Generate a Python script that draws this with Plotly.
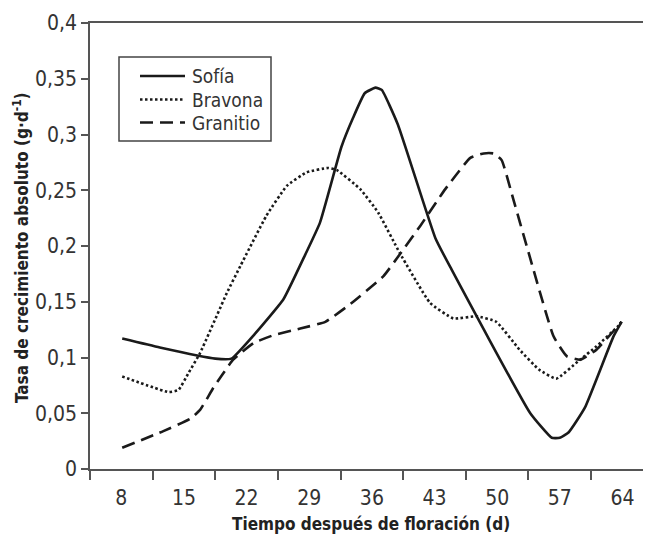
import plotly.graph_objects as go

# Days after flowering (x) and absolute growth rate (y)
sofia_x = [8.1, 12.3, 18.5, 20.3, 22.9, 26.1, 28.3, 30.2, 32.6, 33.9, 35.2, 36.4, 37.1,
           38.9, 43.1, 44.9, 53.7, 56.1, 57.0, 58.0, 59.8, 63.0, 63.9]
sofia_y = [0.117, 0.109, 0.099, 0.099, 0.121, 0.152, 0.188, 0.221, 0.289, 0.315, 0.337, 0.342, 0.340,
           0.309, 0.207, 0.179, 0.050, 0.028, 0.028, 0.033, 0.055, 0.119, 0.132]

bravona_x = [8.1, 13.3, 14.4, 15.5, 16.8, 19.8, 21.3, 24.2, 26.5, 28.7, 31.1, 32.1, 34.7, 36.7,
             39.1, 42.5, 45.1, 47.7, 49.9, 52.5, 54.7, 56.6, 59.1, 61.1, 63.5, 63.9]
bravona_y = [0.083, 0.069, 0.071, 0.086, 0.104, 0.158, 0.182, 0.227, 0.254, 0.266, 0.270, 0.268, 0.251, 0.230,
             0.194, 0.149, 0.135, 0.137, 0.132, 0.107, 0.089, 0.081, 0.097, 0.110, 0.128, 0.132]

granitio_x = [8.1, 12.7, 15.7, 16.8, 18.3, 20.5, 22.8, 25.0, 28.0, 30.8, 33.6, 37.3, 38.8, 41.4,
              44.2, 47.0, 48.5, 49.6, 50.5, 51.8, 53.3, 56.3, 57.8, 59.3, 61.1, 63.9]
granitio_y = [0.019, 0.034, 0.045, 0.053, 0.073, 0.098, 0.113, 0.120, 0.126, 0.132, 0.148, 0.173, 0.189, 0.218,
              0.251, 0.279, 0.283, 0.283, 0.277, 0.242, 0.200, 0.119, 0.101, 0.098, 0.107, 0.132]

series_names = ["Sofía", "Bravona", "Granitio"]
series_dash = ["solid", "2.5px,2.5px", "13px,7px"]

x_ticks = [8, 15, 22, 29, 36, 43, 50, 57, 64]
y_ticks = [0, 0.05, 0.1, 0.15, 0.2, 0.25, 0.3, 0.35, 0.4]
y_ticktext = ["0", "0,05", "0,1", "0,15", "0,2", "0,25", "0,3", "0,35", "0,4"]

FONT = "Liberation Sans Narrow, Arial Narrow, DejaVu Sans Condensed, sans-serif"
LINE = "#1a1a1a"

fig = go.Figure()
for name, xs, ys, dash in zip(series_names, [sofia_x, bravona_x, granitio_x],
                              [sofia_y, bravona_y, granitio_y], series_dash):
    fig.add_trace(go.Scatter(x=xs, y=ys, name=name, mode="lines", showlegend=False,
                             line=dict(color=LINE, width=2.6, dash=dash, shape="spline", smoothing=0.4)))

# page body has an 8px margin, so the figure is 8px smaller on each side
PL, PT, PW, PH = 90, 23, 561, 446  # plot area in page pixels


def px(X):
    return (X - PL) / PW


def py(Y):
    return (PT + PH - Y) / PH


fig.update_layout(
    width=643, height=527,
    margin=dict(l=82, r=0, t=15, b=66),
    paper_bgcolor="white", plot_bgcolor="white",
    font=dict(family=FONT, size=20, color="#333"),
    showlegend=False,
)

fig.update_xaxes(
    range=[4.5, 67.19], showgrid=False, zeroline=False,
    showline=True, linecolor="#555", linewidth=1.6, mirror=True,
    tickmode="array", tickvals=x_ticks, ticktext=[str(v) for v in x_ticks],
    ticks="outside", ticklen=9, tickcolor="rgba(0,0,0,0)",
    minor=dict(tick0=4.5, dtick=7, ticks="outside", ticklen=9, tickwidth=1.6, tickcolor="#555", showgrid=False),
    tickfont=dict(family=FONT, size=21, color="#333"),
)
fig.update_yaxes(
    range=[0, 0.4], showgrid=False, zeroline=False,
    showline=True, linecolor="#555", linewidth=1.6,
    tickmode="array", tickvals=y_ticks, ticktext=y_ticktext,
    ticks="outside", ticklen=7, tickwidth=1.6, tickcolor="#555",
    tickfont=dict(family=FONT, size=21, color="#333"),
)

# legend box drawn by hand to match the reference
fig.add_shape(type="rect", xref="paper", yref="paper",
              x0=px(119), x1=px(271), y0=py(141), y1=py(57),
              line=dict(color="#444", width=1.5), fillcolor="white", layer="above")
for i, (name, dash) in enumerate(zip(series_names, series_dash)):
    yy = [76, 99.5, 122.5][i]
    fig.add_shape(type="line", xref="paper", yref="paper",
                  x0=px(140), x1=px(185), y0=py(yy), y1=py(yy),
                  line=dict(color=LINE, width=2.6, dash=dash), layer="above")
    fig.add_annotation(text=name, xref="paper", yref="paper", x=px(190), y=py(yy),
                       xanchor="left", yanchor="middle", showarrow=False,
                       font=dict(family=FONT, size=19, color="#333"))

fig.add_annotation(text="<b>Tiempo después de floración (d)</b>", xref="paper", yref="paper",
                   x=px(371), y=py(524), xanchor="center", yanchor="middle",
                   showarrow=False, font=dict(family=FONT, size=17, color="#222"))
fig.add_annotation(text="<b>Tasa de crecimiento absoluto (g·d<sup>-1</sup>)</b>", xref="paper", yref="paper",
                   x=px(21), y=py(248), xanchor="center", yanchor="middle",
                   textangle=-90, showarrow=False, font=dict(family=FONT, size=17, color="#222"))

fig.write_html("out.html")
